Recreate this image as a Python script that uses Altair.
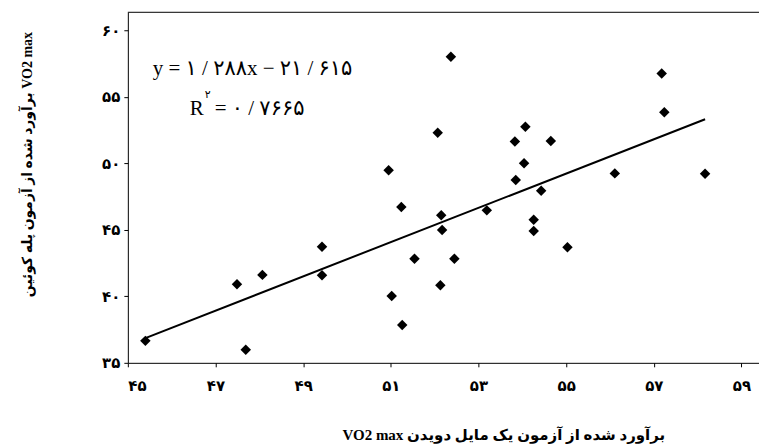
import altair as alt
import pandas as pd

# VO2 max estimated from the one-mile run test (x) and the Queen's step test (y)
vo2_mile = [45.40, 47.49, 48.07, 47.69, 49.43, 49.43, 50.95, 51.24, 52.15, 52.17,
            51.54, 52.45, 52.13, 51.02, 51.26, 53.19, 53.85, 54.04, 52.37, 52.07,
            54.07, 53.83, 54.65, 54.43, 54.26, 54.26, 55.03, 56.11, 57.18, 57.24,
            58.17]
vo2_step = [36.65, 40.91, 41.61, 35.98, 43.73, 41.58, 49.47, 46.71, 46.09, 44.99,
            42.83, 42.83, 40.83, 40.03, 37.85, 46.46, 48.74, 50.00, 58.00, 52.29,
            52.74, 51.64, 51.67, 47.94, 45.76, 44.91, 43.69, 49.24, 56.75, 53.84,
            49.21]

slope = 1.288
intercept = -21.615

x_ticks = [45, 47, 49, 51, 53, 55, 57, 59]
y_ticks = [35, 40, 45, 50, 55, 60]

eq_text = "y = ۱ / ۲۸۸x − ۲۱ / ۶۱۵"
r_text = "R"
r_sup = "۲"
r_val = "= ۰ / ۷۶۶۵"
x_title = "VO2  max برآورد شده از آزمون یک مایل دویدن"
y_title = "برآورد شده از آزمون پله کوئین VO2  max"

fa = str.maketrans("0123456789", "۰۱۲۳۴۵۶۷۸۹")


def label_expr(ticks):
    expr = "''"
    for t in reversed(ticks):
        expr = f"datum.value == {t} ? '{str(t).translate(fa)}' : ({expr})"
    return expr


df = pd.DataFrame({"mile": vo2_mile, "step": vo2_step})

W, H = 632, 351
x_scale = alt.Scale(domain=[45, 59.4], nice=False, zero=False)
y_scale = alt.Scale(domain=[35, 61.35], nice=False, zero=False)

label_font = "DejaVu Sans"
title_font = "Liberation Serif, DejaVu Sans"

x_axis = alt.Axis(values=x_ticks, labelExpr=label_expr(x_ticks), grid=False,
                  domainColor="black", tickColor="black", tickSize=4,
                  labelPadding=12, labelFont=label_font, labelFontSize=15,
                  labelFontWeight="bold", labelColor="black",
                  title=x_title, titleFont=title_font, titleFontSize=15,
                  titleFontWeight="bold", titleColor="black",
                  titleX=376, titleY=72, titleAlign="center",
                  titleBaseline="middle", titleAnchor="start")
y_axis = alt.Axis(values=y_ticks, labelExpr=label_expr(y_ticks), grid=False,
                  domainColor="black", tickColor="black", tickSize=4,
                  labelPadding=4, labelFont=label_font, labelFontSize=15,
                  labelFontWeight="bold", labelColor="black",
                  title=y_title, titleFont=title_font, titleFontSize=14,
                  titleFontWeight="bold", titleColor="black",
                  titleAngle=270, titleX=-100, titleY=152, titleAlign="center",
                  titleBaseline="middle", titleAnchor="start")

base = alt.Chart(df)

points = base.mark_point(shape="diamond", filled=True, color="black",
                         size=110, opacity=1).encode(
    x=alt.X("mile:Q", scale=x_scale, axis=x_axis),
    y=alt.Y("step:Q", scale=y_scale, axis=y_axis),
)

trend = base.transform_aggregate(
    xmin="min(mile)", xmax="max(mile)"
).transform_fold(
    ["xmin", "xmax"], as_=["k", "mile"]
).transform_calculate(
    step=f"{slope} * datum.mile + ({intercept})"
).mark_line(color="black", strokeWidth=2).encode(
    x=alt.X("mile:Q", scale=x_scale),
    y=alt.Y("step:Q", scale=y_scale),
)

one = pd.DataFrame({"a": [0]})
top_border = alt.Chart(one).mark_rule(color="black", strokeWidth=1).encode(
    x=alt.value(0), x2=alt.value(W + 7), y=alt.value(0))
eq = alt.Chart(one).mark_text(text=eq_text, align="left", baseline="alphabetic",
                              font="Liberation Serif, DejaVu Sans", fontSize=21,
                              color="black").encode(
    x=alt.value(25), y=alt.value(63))
r1 = alt.Chart(one).mark_text(text=r_text, align="left", baseline="alphabetic",
                              font="Liberation Serif", fontSize=21,
                              color="black").encode(
    x=alt.value(62), y=alt.value(103))
r2 = alt.Chart(one).mark_text(text=r_sup, align="left", baseline="alphabetic",
                              font="DejaVu Sans", fontSize=11,
                              color="black").encode(
    x=alt.value(77), y=alt.value(86))
r3 = alt.Chart(one).mark_text(text=r_val, align="left", baseline="alphabetic",
                              font="Liberation Serif, DejaVu Sans", fontSize=21,
                              color="black").encode(
    x=alt.value(87), y=alt.value(103))

chart = alt.layer(top_border, trend, points, eq, r1, r2, r3).properties(
    width=W, height=H,
    autosize=alt.AutoSizeParams(type="none"),
    padding={"left": 120, "top": 4, "right": 0, "bottom": 82},
    background="white",
).configure_view(strokeWidth=0)

chart.save("out.html", embed_options={"renderer": "svg", "actions": False})
